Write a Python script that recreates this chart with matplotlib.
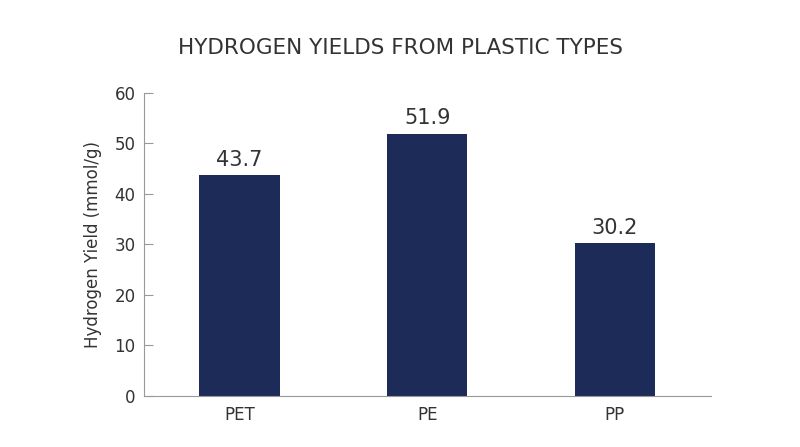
import matplotlib
matplotlib.use("Agg")
import matplotlib.pyplot as plt

plastics = ["PET", "PE", "PP"]
yields = [43.7, 51.9, 30.2]
y_ticks = [0, 10, 20, 30, 40, 50, 60]

plt.rcParams["font.family"] = ["DejaVu Sans"]
text_color = "#333333"
bar_color = "#1c2b57"

fig = plt.figure(figsize=(8, 4.47), dpi=100)
ax = fig.add_axes([0.18, 0.1141, 0.709, 0.678])

x = list(range(len(plastics)))
bars = ax.bar(x, yields, width=0.43, color=bar_color)
for xi, v in zip(x, yields):
    ax.text(xi, v + 1.1, f"{v}", ha="center", va="bottom", fontsize=15, color=text_color)

ax.set_xlim(-0.508, 2.513)
ax.set_ylim(0, 60)
ax.set_yticks(y_ticks)
ax.set_xticks(x)
ax.set_xticklabels(plastics)
ax.tick_params(axis="y", direction="in", labelsize=12, colors="#999999", labelcolor=text_color,
               length=6.5, width=0.8, pad=6)
ax.tick_params(axis="x", labelsize=12, labelcolor=text_color, length=0, pad=7)
for side in ("top", "right"):
    ax.spines[side].set_visible(False)
for side in ("left", "bottom"):
    ax.spines[side].set_color("#999999")
    ax.spines[side].set_linewidth(0.8)

ax.set_ylabel("Hydrogen Yield (mmol/g)", fontsize=12, color=text_color, labelpad=9)
fig.text(0.5, 0.892, "HYDROGEN YIELDS FROM PLASTIC TYPES", ha="center", va="center",
         fontsize=15.5, color=text_color)

fig.savefig("out.png", dpi=100)
